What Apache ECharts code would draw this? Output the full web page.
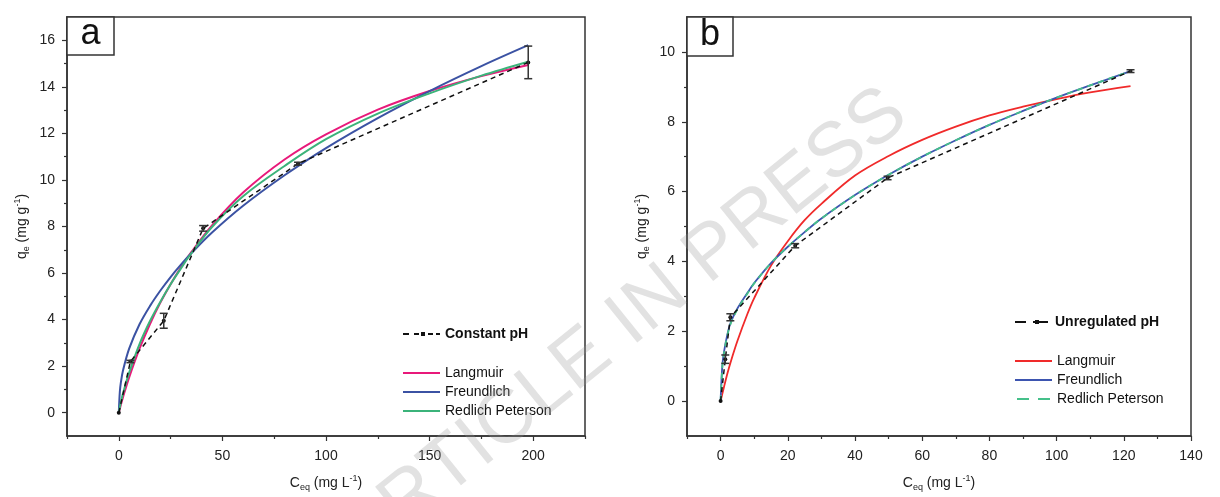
<!DOCTYPE html>
<html><head><meta charset="utf-8">
<script src="https://cdn.jsdelivr.net/npm/echarts@6/dist/echarts.min.js"></script>
<style>html,body{margin:0;padding:0;background:#fff}#c{width:1220px;height:497px}</style>
</head><body><div id="c"></div>
<script>
// ---------- Panel a (constant pH) ----------
const aXLabels = [0, 50, 100, 150, 200];
const aXMinor = [-25, 25, 75, 125, 175, 225];
const aYLabels = [0, 2, 4, 6, 8, 10, 12, 14, 16];
const aYMinor = [1, 3, 5, 7, 9, 11, 13, 15];
const aDataX = [0, 5.6, 21.7, 40.7, 86.5, 197.6];
const aDataY = [0, 2.2, 3.95, 7.92, 10.7, 15.05];
const aDataErr = [0, 0.05, 0.32, 0.12, 0.06, 0.7];
const aModelX = [0, 0.5, 1, 2, 5, 10, 15, 20, 25, 30, 35, 45, 60, 80, 100, 125, 150, 175, 197.6];
const aLangmuir = [0, 0.17, 0.34, 0.66, 1.52, 2.75, 3.80, 4.72, 5.52, 6.25, 6.90, 8.05, 9.46, 10.88, 11.96, 13.02, 13.82, 14.46, 14.94];
const aFreundlich = [0, 0.9, 1.3, 1.8, 2.75, 3.8, 4.58, 5.24, 5.83, 6.36, 6.85, 7.74, 8.89, 10.2, 11.37, 12.66, 13.82, 14.89, 15.79];
const aRedlich = [0, 0.24, 0.45, 0.82, 1.72, 2.95, 3.93, 4.76, 5.52, 6.2, 6.85, 7.98, 9.3, 10.6, 11.75, 12.85, 13.72, 14.48, 15.08];

// ---------- Panel b (unregulated pH) ----------
const bXLabels = [0, 20, 40, 60, 80, 100, 120, 140];
const bXMinor = [-10, 10, 30, 50, 70, 90, 110, 130];
const bYLabels = [0, 2, 4, 6, 8, 10];
const bYMinor = [1, 3, 5, 7, 9];
const bDataX = [0, 1.4, 2.9, 22.2, 49.7, 122];
const bDataY = [0, 1.2, 2.4, 4.45, 6.39, 9.45];
const bDataErr = [0, 0.12, 0.1, 0.06, 0.05, 0.04];
const bModelX = [0, 0.5, 1, 2, 3, 5, 8, 10, 15, 20, 25, 30, 40, 50, 60, 70, 80, 90, 100, 110, 122];
const bLangmuir = [0, 0.2, 0.4, 0.78, 1.12, 1.72, 2.5, 2.95, 3.88, 4.58, 5.18, 5.65, 6.46, 7.02, 7.48, 7.86, 8.18, 8.43, 8.65, 8.84, 9.02];
const bFreundlich = [0, 1.0, 1.4, 1.9, 2.25, 2.65, 3.1, 3.38, 3.95, 4.42, 4.84, 5.23, 5.9, 6.48, 7.0, 7.47, 7.91, 8.31, 8.69, 9.04, 9.45];
const bRedlich = [0, 0.95, 1.36, 1.87, 2.22, 2.63, 3.08, 3.37, 3.95, 4.42, 4.84, 5.23, 5.9, 6.48, 7.0, 7.47, 7.91, 8.31, 8.69, 9.04, 9.45];

const FONT = '"Liberation Sans", Arial, sans-serif';
const AX = '#333';
const pairs = (xs, ys) => xs.map((x, i) => [x, ys[i]]);
const errs = (xs, ys, es) => xs.map((x, i) => [x, ys[i] - es[i], ys[i] + es[i]]);

const richName = {
  color: '#222', fontFamily: FONT,
  rich: {
    n: { fontSize: 14, lineHeight: 18, fontFamily: FONT, color: '#222' },
    s: { fontSize: 9, lineHeight: 9, verticalAlign: 'bottom', fontFamily: FONT, color: '#222' },
    p: { fontSize: 9, lineHeight: 9, verticalAlign: 'top', fontFamily: FONT, color: '#222' }
  }
};
const xNameTxt = '{n|C}{s|eq}{n| (mg L}{p|-1}{n|)}';
const yNameTxt = '{n|q}{s|e}{n| (mg g}{p|-1}{n|)}';

function mainX(g, min, max, labels) {
  return { type: 'value', gridIndex: g, min, max, position: 'bottom',
    axisLine: { show: true, onZero: false, lineStyle: { color: AX, width: 1.5 } },
    axisTick: { show: true, customValues: labels, length: 5, lineStyle: { color: AX, width: 1.2 } },
    axisLabel: { customValues: labels, margin: 13, fontSize: 14, color: '#222', fontFamily: FONT },
    splitLine: { show: false },
    name: xNameTxt, nameLocation: 'middle', nameGap: 38, nameTextStyle: richName };
}
function minorX(g, min, max, ticks) {
  return { type: 'value', gridIndex: g, min, max, position: 'bottom',
    axisLine: { show: false, onZero: false },
    axisTick: { show: true, customValues: ticks, length: 3, lineStyle: { color: AX, width: 1.2 } },
    axisLabel: { show: false }, splitLine: { show: false } };
}
function mainY(g, min, max, labels) {
  return { type: 'value', gridIndex: g, min, max, position: 'left',
    axisLine: { show: true, onZero: false, lineStyle: { color: AX, width: 1.5 } },
    axisTick: { show: true, customValues: labels, length: 5, lineStyle: { color: AX, width: 1.2 } },
    axisLabel: { customValues: labels, margin: 12, fontSize: 14, color: '#222', fontFamily: FONT },
    splitLine: { show: false },
    name: yNameTxt, nameLocation: 'middle', nameGap: 36, nameTextStyle: richName };
}
function minorY(g, min, max, ticks) {
  return { type: 'value', gridIndex: g, min, max, position: 'left',
    axisLine: { show: false, onZero: false },
    axisTick: { show: true, customValues: ticks, length: 3, lineStyle: { color: AX, width: 1.2 } },
    axisLabel: { show: false }, splitLine: { show: false } };
}
function curve(name, xi, yi, xs, ys, color, width, type) {
  return { name, type: 'line', xAxisIndex: xi, yAxisIndex: yi, data: pairs(xs, ys),
    smooth: 0.35, showSymbol: false, symbol: 'none',
    lineStyle: { color, width, type: type || 'solid' }, itemStyle: { color }, z: 3 };
}
function dataLine(name, xi, yi, xs, ys) {
  return { name, type: 'line', xAxisIndex: xi, yAxisIndex: yi, data: pairs(xs, ys),
    symbol: 'circle', symbolSize: 4, showSymbol: true,
    lineStyle: { color: '#111', width: 1.5, type: [5, 4] }, itemStyle: { color: '#111' }, z: 4 };
}
function errSeries(xi, yi, xs, ys, es) {
  return { type: 'custom', xAxisIndex: xi, yAxisIndex: yi, data: errs(xs, ys, es),
    encode: { x: 0, y: [1, 2] }, z: 5,
    renderItem: function (params, api) {
      const x = api.value(0), lo = api.value(1), hi = api.value(2);
      if (hi - lo <= 0) return null;
      const a = api.coord([x, lo]), b = api.coord([x, hi]);
      const w = 4, st = { stroke: '#333', lineWidth: 1.5 };
      return { type: 'group', children: [
        { type: 'line', shape: { x1: a[0], y1: a[1], x2: b[0], y2: b[1] }, style: st },
        { type: 'line', shape: { x1: a[0] - w, y1: a[1], x2: a[0] + w, y2: a[1] }, style: st },
        { type: 'line', shape: { x1: b[0] - w, y1: b[1], x2: b[0] + w, y2: b[1] }, style: st }
      ] };
    } };
}
const fmt = n => n.split(':')[1];
const ICON_SOLID = 'path://M0,0H37V2H0Z';
const ICON_DASH = 'path://M0,0H12V2H0Z M21,0H33V2H21Z';
const ICON_DATA_A = 'path://M0,1H6V3H0Z M11,1H16V3H11Z M18,0H22V4H18Z M25,1H30V3H25Z M33,1H37V3H33Z';
const ICON_DATA_B = 'path://M0,1H11V3H0Z M18,1H33V3H18Z M20,0H24V4H20Z';
function legend(items, left, top, bold, h) {
  return { data: items, left, top, orient: 'vertical', itemWidth: 37, itemHeight: h, itemGap: 5,
    selectedMode: false, formatter: fmt,
    textStyle: { fontSize: 14, fontFamily: FONT, color: '#111', fontWeight: bold ? 'bold' : 'normal' } };
}

const option = {
  animation: false,
  backgroundColor: '#fff',
  grid: [
    { left: 67, top: 17, width: 518, height: 419, show: true, borderColor: AX, borderWidth: 1.5 },
    { left: 687, top: 17, width: 504, height: 419, show: true, borderColor: AX, borderWidth: 1.5 }
  ],
  xAxis: [
    mainX(0, -25, 225, aXLabels), minorX(0, -25, 225, aXMinor),
    mainX(1, -10, 140, bXLabels), minorX(1, -10, 140, bXMinor)
  ],
  yAxis: [
    mainY(0, -1, 17, aYLabels), minorY(0, -1, 17, aYMinor),
    mainY(1, -1, 11, bYLabels), minorY(1, -1, 11, bYMinor)
  ],
  legend: [
    legend([{ name: 'a:Constant pH', icon: ICON_DATA_A }], 398, 322, true, 4),
    legend([{ name: 'a:Langmuir', icon: ICON_SOLID }, { name: 'a:Freundlich', icon: ICON_SOLID },
            { name: 'a:Redlich Peterson', icon: ICON_SOLID }], 398, 361, false, 2),
    legend([{ name: 'b:Unregulated pH', icon: ICON_DATA_B }], 1010, 310, true, 4),
    legend([{ name: 'b:Langmuir', icon: ICON_SOLID }, { name: 'b:Freundlich', icon: ICON_SOLID },
            { name: 'b:Redlich Peterson', icon: ICON_DASH }], 1010, 349, false, 2)
  ],
  series: [
    curve('a:Langmuir', 0, 0, aModelX, aLangmuir, '#e8197a', 2),
    curve('a:Freundlich', 0, 0, aModelX, aFreundlich, '#3b52a3', 2),
    curve('a:Redlich Peterson', 0, 0, aModelX, aRedlich, '#3bb37a', 2),
    dataLine('a:Constant pH', 0, 0, aDataX, aDataY),
    errSeries(0, 0, aDataX, aDataY, aDataErr),
    curve('b:Langmuir', 2, 2, bModelX, bLangmuir, '#f02a2a', 1.8),
    curve('b:Freundlich', 2, 2, bModelX, bFreundlich, '#3d55b0', 1.8),
    curve('b:Redlich Peterson', 2, 2, bModelX, bRedlich, '#45c08a', 1.8, [6, 5]),
    dataLine('b:Unregulated pH', 2, 2, bDataX, bDataY),
    errSeries(2, 2, bDataX, bDataY, bDataErr)
  ],
  graphic: [
    { type: 'rect', shape: { x: 67, y: 17, width: 47, height: 38 }, style: { fill: '#fff', stroke: AX, lineWidth: 1.5 }, z: 10 },
    { type: 'text', x: 90.5, y: 34, style: { text: 'a', font: '36px "Liberation Sans", Arial, sans-serif', fill: '#111', align: 'center', verticalAlign: 'middle' }, z: 11 },
    { type: 'rect', shape: { x: 687, y: 17, width: 46, height: 39 }, style: { fill: '#fff', stroke: AX, lineWidth: 1.5 }, z: 10 },
    { type: 'text', x: 710, y: 35, style: { text: 'b', font: '36px "Liberation Sans", Arial, sans-serif', fill: '#111', align: 'center', verticalAlign: 'middle' }, z: 11 },
    { type: 'text', x: 624, y: 326, rotation: 39 * Math.PI / 180, silent: true, z: 100,
      style: { text: 'ARTICLE IN PRESS', font: '77px "Liberation Sans", Arial, sans-serif', fill: 'rgba(150,150,150,0.28)', align: 'center', verticalAlign: 'middle' } }
  ]
};
const chart = echarts.init(document.getElementById('c'), null, { renderer: 'canvas' });
chart.setOption(option);
</script></body></html>
